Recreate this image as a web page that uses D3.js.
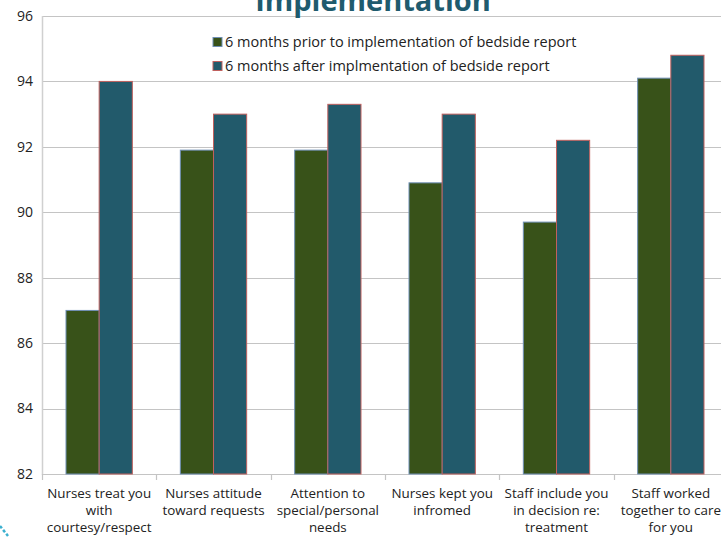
<!DOCTYPE html>
<html>
<head>
<meta charset="utf-8">
<script src="https://cdn.jsdelivr.net/npm/d3@7"></script>
<style>
html,body{margin:0;padding:0;background:#fff;overflow:hidden;}
svg{display:block;}
</style>
</head>
<body>
<svg id="chart" width="721" height="539"></svg>
<script>
const categories = [
  ["Nurses treat you", "with", "courtesy/respect"],
  ["Nurses attitude", "toward requests"],
  ["Attention to", "special/personal", "needs"],
  ["Nurses kept you", "infromed"],
  ["Staff include you", "in decision re:", "treatment"],
  ["Staff worked", "together to care", "for you"]
];
const seriesNames = [
  "6 months prior to implementation of bedside report",
  "6 months after implmentation of bedside report"
];
const priorValues = [87.0, 91.9, 91.9, 90.9, 89.7, 94.1];
const afterValues = [94.0, 93.0, 93.3, 93.0, 92.2, 94.8];
const yTicks = [82, 84, 86, 88, 90, 92, 94, 96];
const titleText = "Implementation";

const colors = ["#385219", "#225A6B"];
const strokes = ["#6F8FB5", "#C0605E"];

const svg = d3.select("#chart");
const pLeft = 42, pRight = 728, pTop = 16, pBottom = 474;
const font = "'Open Sans', 'Noto Sans', sans-serif";

const y = d3.scaleLinear().domain([82, 96]).range([pBottom, pTop]);
const xOuter = d3.scaleBand().domain(d3.range(categories.length)).range([pLeft, pRight]);
const barPad = 24;
const x1 = d3.scaleBand().domain([0, 1]).range([0, xOuter.bandwidth() - 2 * barPad]);

// gridlines
svg.append("g").selectAll("line").data(yTicks).join("line")
  .attr("x1", pLeft).attr("x2", 721)
  .attr("y1", d => Math.round(y(d)) + 0.5).attr("y2", d => Math.round(y(d)) + 0.5)
  .attr("stroke", "#C4C4C4").attr("stroke-width", 1.2);

// y axis line
svg.append("line").attr("x1", pLeft + 0.5).attr("x2", pLeft + 0.5)
  .attr("y1", pTop).attr("y2", pBottom + 1)
  .attr("stroke", "#D0D0D0").attr("stroke-width", 1.5);

// y labels
svg.append("g").selectAll("text").data(yTicks).join("text")
  .attr("x", 33).attr("y", d => y(d))
  .attr("dy", "0.35em").attr("text-anchor", "end")
  .attr("font-family", font).attr("font-size", 14).attr("fill", "#222")
  .text(d => d);

// x ticks
svg.append("g").selectAll("line").data(d3.range(categories.length + 1)).join("line")
  .attr("x1", i => Math.round(pLeft + i * xOuter.step()) + 0.5)
  .attr("x2", i => Math.round(pLeft + i * xOuter.step()) + 0.5)
  .attr("y1", pBottom).attr("y2", pBottom + 6)
  .attr("stroke", "#C4C4C4").attr("stroke-width", 1.2);

// bars
const data = categories.map((c, i) => [priorValues[i], afterValues[i]]);
const groups = svg.append("g").selectAll("g").data(data).join("g")
  .attr("transform", (d, i) => `translate(${xOuter(i) + barPad},0)`);
groups.selectAll("rect").data(d => d.map((v, j) => ({v, j}))).join("rect")
  .attr("x", d => x1(d.j))
  .attr("y", d => y(d.v))
  .attr("width", x1.bandwidth())
  .attr("height", d => y(82) - y(d.v))
  .attr("fill", d => colors[d.j])
  .attr("stroke", d => strokes[d.j])
  .attr("stroke-width", 1);

// category labels
const cl = svg.append("g").selectAll("text").data(categories).join("text")
  .attr("x", (d, i) => xOuter(i) + xOuter.bandwidth() / 2)
  .attr("y", 493)
  .attr("text-anchor", "middle")
  .attr("font-family", font).attr("font-size", 13.4).attr("fill", "#222");
cl.selectAll("tspan").data(d => d).join("tspan")
  .attr("x", function() { return d3.select(this.parentNode).attr("x"); })
  .attr("dy", (d, k) => k === 0 ? "0.35em" : "17px")
  .text(d => d);

// title (clipped at top, as in the reference)
svg.append("text").attr("x", 373).attr("y", 11)
  .attr("text-anchor", "middle")
  .attr("font-family", font).attr("font-weight", "bold").attr("font-size", 29)
  .attr("fill", "#1F5B6E").text(titleText);

// legend
const lg = svg.append("g").selectAll("g").data(seriesNames).join("g")
  .attr("transform", (d, i) => `translate(213,${42 + i * 24})`);
lg.append("rect").attr("x", 0).attr("y", -4.5).attr("width", 9).attr("height", 9)
  .attr("fill", (d, i) => colors[i]).attr("stroke", (d, i) => strokes[i]).attr("stroke-width", 1);
lg.append("text").attr("x", 12).attr("y", 0).attr("dy", "0.35em")
  .attr("font-family", font).attr("font-size", 14.5).attr("fill", "#222")
  .text(d => d);

// decorative slide fragment at bottom-left
svg.append("path").attr("d", "M0,526 L8,536")
  .attr("stroke", "#3BB0CF").attr("stroke-width", 2.5).attr("stroke-dasharray", "3,2").attr("fill", "none");
</script>
</body>
</html>
